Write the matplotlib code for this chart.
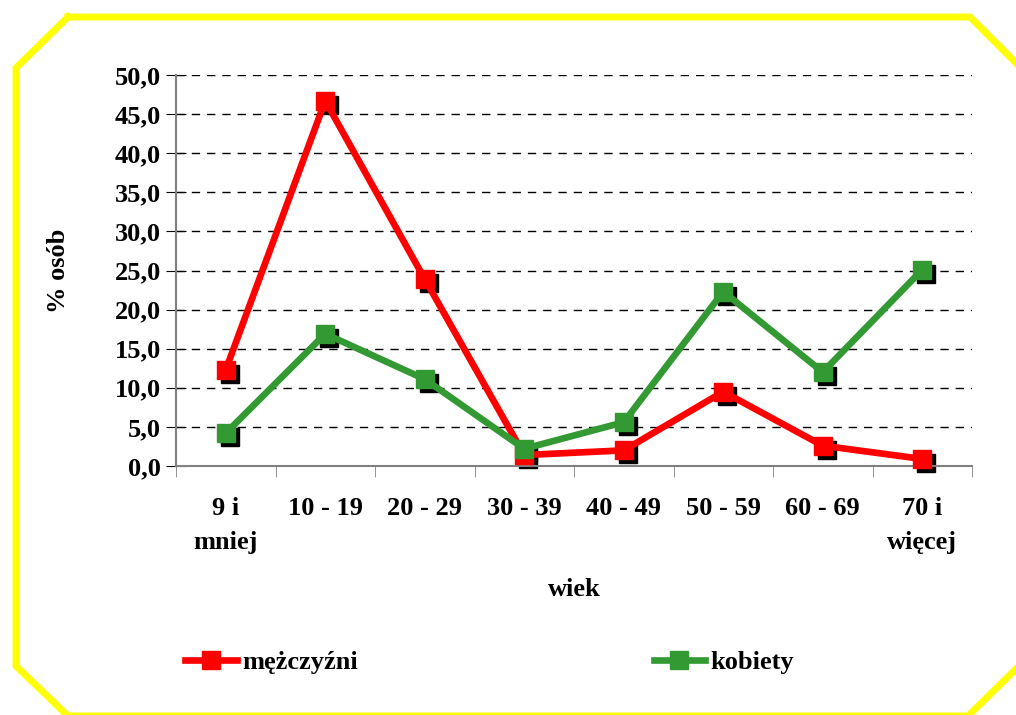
import numpy as np
import matplotlib.pyplot as plt
from matplotlib.lines import Line2D
from matplotlib.transforms import offset_copy
from matplotlib.ticker import FuncFormatter

plt.rcParams['font.family'] = ['Liberation Serif', 'DejaVu Serif']
plt.rcParams['font.weight'] = 'bold'
plt.rcParams['axes.labelweight'] = 'bold'

kategorie = ['9 i\nmniej', '10 - 19', '20 - 29', '30 - 39', '40 - 49',
             '50 - 59', '60 - 69', '70 i\nwięcej']
mezczyzni = [12.3, 46.7, 23.9, 1.4, 2.0, 9.5, 2.6, 0.9]
kobiety = [4.2, 16.9, 11.1, 2.2, 5.6, 22.3, 12.0, 25.1]

W, H = 1016, 715
fs = 19
fig = plt.figure(figsize=(W / 100, H / 100), dpi=100)
ax = fig.add_axes([176 / W, 1 - 466 / H, 796 / W, 391 / H])

x = np.arange(len(kategorie))
shadow = offset_copy(ax.transData, fig=fig, x=4, y=-4, units='dots')

for vals, col in [(mezczyzni, '#ff0000'), (kobiety, '#339933')]:
    ax.plot(x, vals, 's', color='black', markersize=12.5, transform=shadow,
            zorder=2, clip_on=False)
    ax.plot(x, vals, '-s', color=col, lw=4.8, markersize=12.5, zorder=3,
            clip_on=False)

ax.set_xlim(-0.5, 7.5)
ax.set_ylim(0, 50)
ax.set_yticks(np.arange(0, 51, 5))
ax.yaxis.set_major_formatter(FuncFormatter(lambda v, p: f'{v:.1f}'.replace('.', ',')))
for v in np.arange(5, 51, 5):
    ax.axhline(v, color='black', lw=1, dashes=(6, 5), zorder=1)

ax.set_xticks(x)
ax.set_xticklabels(kategorie, linespacing=1.65, va='top')
ax.set_xticks(np.arange(-0.5, 7.6, 1), minor=True)
ax.tick_params(axis='x', which='major', length=0, pad=22, labelsize=fs)
ax.tick_params(axis='x', which='minor', length=8, color='#808080', direction='out')
ax.tick_params(axis='y', length=8, direction='inout', color='black', labelsize=fs, pad=7)
for t in ax.get_yticklines():
    t.set_markersize(15)

for s in ['top', 'right']:
    ax.spines[s].set_visible(False)
for s in ['left', 'bottom']:
    ax.spines[s].set_color('#808080')
    ax.spines[s].set_linewidth(1.5)

ax.set_ylabel('% osób', fontsize=fs, labelpad=32)
ax.set_xlabel('wiek', fontsize=fs, labelpad=17)

handles = [Line2D([], [], color='#ff0000', lw=4.8, marker='s', markersize=12.5),
           Line2D([], [], color='#339933', lw=4.8, marker='s', markersize=12.5)]
fig.legend(handles, ['mężczyźni', 'kobiety'], loc='center left',
           bbox_to_anchor=(167 / W, 1 - 662 / H), ncol=2, frameon=False,
           fontsize=fs, handlelength=1.95, handletextpad=0.2, columnspacing=11.2,
           borderpad=0.2)

# żółta ramka ośmiokątna
px = [68, 970, 1019, 1019, 968, 68, 16, 16, 68]
py = [17, 17, 66, 666, 716, 716, 666, 68, 17]
fig.add_artist(Line2D([p / W for p in px], [1 - p / H for p in py],
                      color='#ffff00', lw=5, transform=fig.transFigure,
                      solid_joinstyle='miter'))

fig.savefig('out.png', dpi=100, facecolor='white')
